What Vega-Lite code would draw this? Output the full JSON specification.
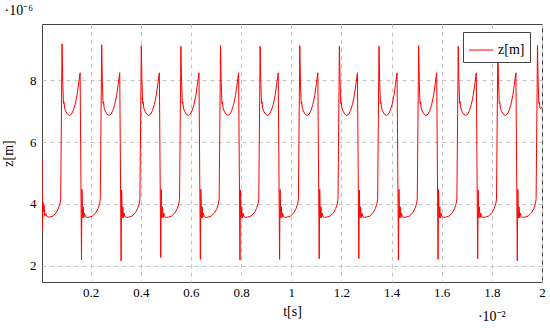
{
  "$schema": "https://vega.github.io/schema/vega-lite/v6.json",
  "width": 500,
  "height": 258,
  "autosize": {"type": "none"},
  "padding": {"left": 42, "top": 24, "right": 8, "bottom": 46},
  "background": "white",
  "title": {"text": "·10⁻⁶", "anchor": "start", "font": "Times New Roman", "fontSize": 14, "fontWeight": "normal", "color": "black", "offset": 6, "dx": 3},
  "config": {
    "view": {"stroke": "#444", "strokeWidth": 1},
    "axis": {
      "domain": false,
      "ticks": false,
      "grid": true,
      "gridColor": "#c4c4c4",
      "gridDash": [4, 4],
      "gridWidth": 1,
      "labelFont": "Times New Roman",
      "labelFontSize": 13,
      "labelColor": "black",
      "titleFont": "Times New Roman",
      "titleFontSize": 14,
      "titleFontWeight": "normal",
      "titleColor": "black"
    }
  },
  "layer": [
    {
      "data": {"values": [
{"t":0.006,"z":5.44},{"t":0.0078,"z":3.2},{"t":0.0098,"z":4.05},{"t":0.012,"z":3.75},{"t":0.0145,"z":3.95},{"t":0.017,"z":3.6},{"t":0.0215,"z":3.68},{"t":0.0275,"z":3.58},{"t":0.0355,"z":3.57},{"t":0.0485,"z":3.6},{"t":0.0625,"z":3.71},{"t":0.0715,"z":3.85},{"t":0.0775,"z":4.0},{"t":0.0805,"z":4.15},{"t":0.086,"z":9.18},{"t":0.0885,"z":8.0},{"t":0.0915,"z":7.25},{"t":0.0935,"z":7.3},{"t":0.096,"z":7.1},{"t":0.1005,"z":7.0},{"t":0.1075,"z":6.9},{"t":0.1155,"z":6.86},{"t":0.1235,"z":6.9},{"t":0.1305,"z":7.02},{"t":0.138,"z":7.21},{"t":0.1455,"z":7.5},{"t":0.1515,"z":7.85},{"t":0.158,"z":8.24},
{"t":0.1635,"z":2.18},{"t":0.1655,"z":4.47},{"t":0.168,"z":3.55},{"t":0.1705,"z":3.9},{"t":0.173,"z":3.55},{"t":0.1755,"z":3.7},{"t":0.1795,"z":3.58},{"t":0.1855,"z":3.56},{"t":0.1935,"z":3.57},{"t":0.2065,"z":3.6},{"t":0.2205,"z":3.71},{"t":0.2295,"z":3.85},{"t":0.2355,"z":4.0},{"t":0.2385,"z":4.15},{"t":0.244,"z":9.15},{"t":0.2465,"z":8.0},{"t":0.2495,"z":7.25},{"t":0.2515,"z":7.3},{"t":0.254,"z":7.1},{"t":0.2585,"z":7.0},{"t":0.2655,"z":6.9},{"t":0.2735,"z":6.86},{"t":0.2815,"z":6.9},{"t":0.2885,"z":7.02},{"t":0.296,"z":7.21},{"t":0.3035,"z":7.5},{"t":0.3095,"z":7.85},{"t":0.316,"z":8.24},
{"t":0.3215,"z":2.15},{"t":0.3235,"z":4.45},{"t":0.326,"z":3.55},{"t":0.3285,"z":3.9},{"t":0.331,"z":3.55},{"t":0.3335,"z":3.7},{"t":0.3375,"z":3.58},{"t":0.3435,"z":3.56},{"t":0.3515,"z":3.57},{"t":0.3645,"z":3.6},{"t":0.3785,"z":3.71},{"t":0.3875,"z":3.85},{"t":0.3935,"z":4.0},{"t":0.3965,"z":4.15},{"t":0.402,"z":9.12},{"t":0.4045,"z":8.0},{"t":0.4075,"z":7.25},{"t":0.4095,"z":7.3},{"t":0.412,"z":7.1},{"t":0.4165,"z":7.0},{"t":0.4235,"z":6.9},{"t":0.4315,"z":6.86},{"t":0.4395,"z":6.9},{"t":0.4465,"z":7.02},{"t":0.454,"z":7.21},{"t":0.4615,"z":7.5},{"t":0.4675,"z":7.85},{"t":0.474,"z":8.24},
{"t":0.4795,"z":2.26},{"t":0.4815,"z":4.47},{"t":0.484,"z":3.55},{"t":0.4865,"z":3.9},{"t":0.489,"z":3.55},{"t":0.4915,"z":3.7},{"t":0.4955,"z":3.58},{"t":0.5015,"z":3.56},{"t":0.5095,"z":3.57},{"t":0.5225,"z":3.6},{"t":0.5365,"z":3.71},{"t":0.5455,"z":3.85},{"t":0.5515,"z":4.0},{"t":0.5545,"z":4.15},{"t":0.56,"z":9.1},{"t":0.5625,"z":8.0},{"t":0.5655,"z":7.25},{"t":0.5675,"z":7.3},{"t":0.57,"z":7.1},{"t":0.5745,"z":7.0},{"t":0.5815,"z":6.9},{"t":0.5895,"z":6.86},{"t":0.5975,"z":6.9},{"t":0.6045,"z":7.02},{"t":0.612,"z":7.21},{"t":0.6195,"z":7.5},{"t":0.6255,"z":7.85},{"t":0.632,"z":8.24},
{"t":0.6375,"z":2.2},{"t":0.6395,"z":4.47},{"t":0.642,"z":3.55},{"t":0.6445,"z":3.9},{"t":0.647,"z":3.55},{"t":0.6495,"z":3.7},{"t":0.6535,"z":3.58},{"t":0.6595,"z":3.56},{"t":0.6675,"z":3.57},{"t":0.6805,"z":3.6},{"t":0.6945,"z":3.71},{"t":0.7035,"z":3.85},{"t":0.7095,"z":4.0},{"t":0.7125,"z":4.15},{"t":0.718,"z":9.12},{"t":0.7205,"z":8.0},{"t":0.7235,"z":7.25},{"t":0.7255,"z":7.3},{"t":0.728,"z":7.1},{"t":0.7325,"z":7.0},{"t":0.7395,"z":6.9},{"t":0.7475,"z":6.86},{"t":0.7555,"z":6.9},{"t":0.7625,"z":7.02},{"t":0.77,"z":7.21},{"t":0.7775,"z":7.5},{"t":0.7835,"z":7.85},{"t":0.79,"z":8.24},
{"t":0.7955,"z":2.18},{"t":0.7975,"z":4.45},{"t":0.8,"z":3.55},{"t":0.8025,"z":3.9},{"t":0.805,"z":3.55},{"t":0.8075,"z":3.7},{"t":0.8115,"z":3.58},{"t":0.8175,"z":3.56},{"t":0.8255,"z":3.57},{"t":0.8385,"z":3.6},{"t":0.8525,"z":3.71},{"t":0.8615,"z":3.85},{"t":0.8675,"z":4.0},{"t":0.8705,"z":4.15},{"t":0.876,"z":9.1},{"t":0.8785,"z":8.0},{"t":0.8815,"z":7.25},{"t":0.8835,"z":7.3},{"t":0.886,"z":7.1},{"t":0.8905,"z":7.0},{"t":0.8975,"z":6.9},{"t":0.9055,"z":6.86},{"t":0.9135,"z":6.9},{"t":0.9205,"z":7.02},{"t":0.928,"z":7.21},{"t":0.9355,"z":7.5},{"t":0.9415,"z":7.85},{"t":0.948,"z":8.24},
{"t":0.9535,"z":2.2},{"t":0.9555,"z":4.47},{"t":0.958,"z":3.55},{"t":0.9605,"z":3.9},{"t":0.963,"z":3.55},{"t":0.9655,"z":3.7},{"t":0.9695,"z":3.58},{"t":0.9755,"z":3.56},{"t":0.9835,"z":3.57},{"t":0.9965,"z":3.6},{"t":1.0105,"z":3.71},{"t":1.0195,"z":3.85},{"t":1.0255,"z":4.0},{"t":1.0285,"z":4.15},{"t":1.034,"z":9.12},{"t":1.0365,"z":8.0},{"t":1.0395,"z":7.25},{"t":1.0415,"z":7.3},{"t":1.044,"z":7.1},{"t":1.0485,"z":7.0},{"t":1.0555,"z":6.9},{"t":1.0635,"z":6.86},{"t":1.0715,"z":6.9},{"t":1.0785,"z":7.02},{"t":1.086,"z":7.21},{"t":1.0935,"z":7.5},{"t":1.0995,"z":7.85},{"t":1.106,"z":8.24},
{"t":1.1115,"z":2.22},{"t":1.1135,"z":4.47},{"t":1.116,"z":3.55},{"t":1.1185,"z":3.9},{"t":1.121,"z":3.55},{"t":1.1235,"z":3.7},{"t":1.1275,"z":3.58},{"t":1.1335,"z":3.56},{"t":1.1415,"z":3.57},{"t":1.1545,"z":3.6},{"t":1.1685,"z":3.71},{"t":1.1775,"z":3.85},{"t":1.1835,"z":4.0},{"t":1.1865,"z":4.15},{"t":1.192,"z":9.1},{"t":1.1945,"z":8.0},{"t":1.1975,"z":7.25},{"t":1.1995,"z":7.3},{"t":1.202,"z":7.1},{"t":1.2065,"z":7.0},{"t":1.2135,"z":6.9},{"t":1.2215,"z":6.86},{"t":1.2295,"z":6.9},{"t":1.2365,"z":7.02},{"t":1.244,"z":7.21},{"t":1.2515,"z":7.5},{"t":1.2575,"z":7.85},{"t":1.264,"z":8.24},
{"t":1.2695,"z":2.23},{"t":1.2715,"z":4.45},{"t":1.274,"z":3.55},{"t":1.2765,"z":3.9},{"t":1.279,"z":3.55},{"t":1.2815,"z":3.7},{"t":1.2855,"z":3.58},{"t":1.2915,"z":3.56},{"t":1.2995,"z":3.57},{"t":1.3125,"z":3.6},{"t":1.3265,"z":3.71},{"t":1.3355,"z":3.85},{"t":1.3415,"z":4.0},{"t":1.3445,"z":4.15},{"t":1.35,"z":9.1},{"t":1.3525,"z":8.0},{"t":1.3555,"z":7.25},{"t":1.3575,"z":7.3},{"t":1.36,"z":7.1},{"t":1.3645,"z":7.0},{"t":1.3715,"z":6.9},{"t":1.3795,"z":6.86},{"t":1.3875,"z":6.9},{"t":1.3945,"z":7.02},{"t":1.402,"z":7.21},{"t":1.4095,"z":7.5},{"t":1.4155,"z":7.85},{"t":1.422,"z":8.24},
{"t":1.4275,"z":2.18},{"t":1.4295,"z":4.47},{"t":1.432,"z":3.55},{"t":1.4345,"z":3.9},{"t":1.437,"z":3.55},{"t":1.4395,"z":3.7},{"t":1.4435,"z":3.58},{"t":1.4495,"z":3.56},{"t":1.4575,"z":3.57},{"t":1.4705,"z":3.6},{"t":1.4845,"z":3.71},{"t":1.4935,"z":3.85},{"t":1.4995,"z":4.0},{"t":1.5025,"z":4.15},{"t":1.508,"z":9.12},{"t":1.5105,"z":8.0},{"t":1.5135,"z":7.25},{"t":1.5155,"z":7.3},{"t":1.518,"z":7.1},{"t":1.5225,"z":7.0},{"t":1.5295,"z":6.9},{"t":1.5375,"z":6.86},{"t":1.5455,"z":6.9},{"t":1.5525,"z":7.02},{"t":1.56,"z":7.21},{"t":1.5675,"z":7.5},{"t":1.5735,"z":7.85},{"t":1.58,"z":8.24},
{"t":1.5855,"z":2.2},{"t":1.5875,"z":4.47},{"t":1.59,"z":3.55},{"t":1.5925,"z":3.9},{"t":1.595,"z":3.55},{"t":1.5975,"z":3.7},{"t":1.6015,"z":3.58},{"t":1.6075,"z":3.56},{"t":1.6155,"z":3.57},{"t":1.6285,"z":3.6},{"t":1.6425,"z":3.71},{"t":1.6515,"z":3.85},{"t":1.6575,"z":4.0},{"t":1.6605,"z":4.15},{"t":1.666,"z":9.1},{"t":1.6685,"z":8.0},{"t":1.6715,"z":7.25},{"t":1.6735,"z":7.3},{"t":1.676,"z":7.1},{"t":1.6805,"z":7.0},{"t":1.6875,"z":6.9},{"t":1.6955,"z":6.86},{"t":1.7035,"z":6.9},{"t":1.7105,"z":7.02},{"t":1.718,"z":7.21},{"t":1.7255,"z":7.5},{"t":1.7315,"z":7.85},{"t":1.738,"z":8.24},
{"t":1.7435,"z":2.22},{"t":1.7455,"z":4.45},{"t":1.748,"z":3.55},{"t":1.7505,"z":3.9},{"t":1.753,"z":3.55},{"t":1.7555,"z":3.7},{"t":1.7595,"z":3.58},{"t":1.7655,"z":3.56},{"t":1.7735,"z":3.57},{"t":1.7865,"z":3.6},{"t":1.8005,"z":3.71},{"t":1.8095,"z":3.85},{"t":1.8155,"z":4.0},{"t":1.8185,"z":4.15},{"t":1.824,"z":9.12},{"t":1.8265,"z":8.0},{"t":1.8295,"z":7.25},{"t":1.8315,"z":7.3},{"t":1.834,"z":7.1},{"t":1.8385,"z":7.0},{"t":1.8455,"z":6.9},{"t":1.8535,"z":6.86},{"t":1.8615,"z":6.9},{"t":1.8685,"z":7.02},{"t":1.876,"z":7.21},{"t":1.8835,"z":7.5},{"t":1.8895,"z":7.85},{"t":1.896,"z":8.24},
{"t":1.9015,"z":2.15},{"t":1.9035,"z":4.47},{"t":1.906,"z":3.55},{"t":1.9085,"z":3.9},{"t":1.911,"z":3.55},{"t":1.9135,"z":3.7},{"t":1.9175,"z":3.58},{"t":1.9235,"z":3.56},{"t":1.9315,"z":3.57},{"t":1.9445,"z":3.6},{"t":1.9585,"z":3.71},{"t":1.9675,"z":3.85},{"t":1.9735,"z":4.0},{"t":1.9765,"z":4.15},{"t":1.982,"z":9.12},{"t":1.9845,"z":8.0},{"t":1.9875,"z":7.25},{"t":1.9895,"z":7.3},{"t":1.992,"z":7.1},{"t":1.996,"z":7.08},{"t":2.0,"z":7.14}
      ]},
      "mark": {"type": "line", "strokeWidth": 1, "interpolate": "linear", "clip": true},
      "encoding": {
        "x": {
          "field": "t", "type": "quantitative",
          "scale": {"domain": [0.006, 2], "zero": false, "nice": false},
          "axis": {"values": [0.2, 0.4, 0.6, 0.8, 1, 1.2, 1.4, 1.6, 1.8, 2], "format": ".1~f", "labelPadding": 4, "title": "t[s]", "titlePadding": 5, "labelFlush": false}
        },
        "y": {
          "field": "z", "type": "quantitative",
          "scale": {"domain": [1.47, 9.82], "zero": false, "nice": false},
          "axis": {"values": [2, 4, 6, 8], "labelPadding": 6, "title": "z[m]", "titlePadding": 14}
        },
        "color": {
          "datum": "z[m]",
          "scale": {"range": ["#ff0000"]},
          "legend": {
            "title": null,
            "orient": "none",
            "legendX": 421,
            "legendY": 8,
            "direction": "vertical",
            "fillColor": "white",
            "strokeColor": "#444",
            "padding": 5,
            "symbolType": "stroke",
            "symbolSize": 600,
            "symbolStrokeWidth": 1,
            "labelFont": "Times New Roman",
            "labelFontSize": 14,
            "labelColor": "black",
            "labelOffset": 4
          }
        }
      }
    },
    {
      "data": {"values": [{}]},
      "mark": {"type": "text", "text": "·10⁻²", "font": "Times New Roman", "fontSize": 14, "align": "center", "baseline": "middle", "color": "black"},
      "encoding": {
        "x": {"datum": 1.8},
        "y": {"datum": 0.35}
      }
    }
  ]
}
